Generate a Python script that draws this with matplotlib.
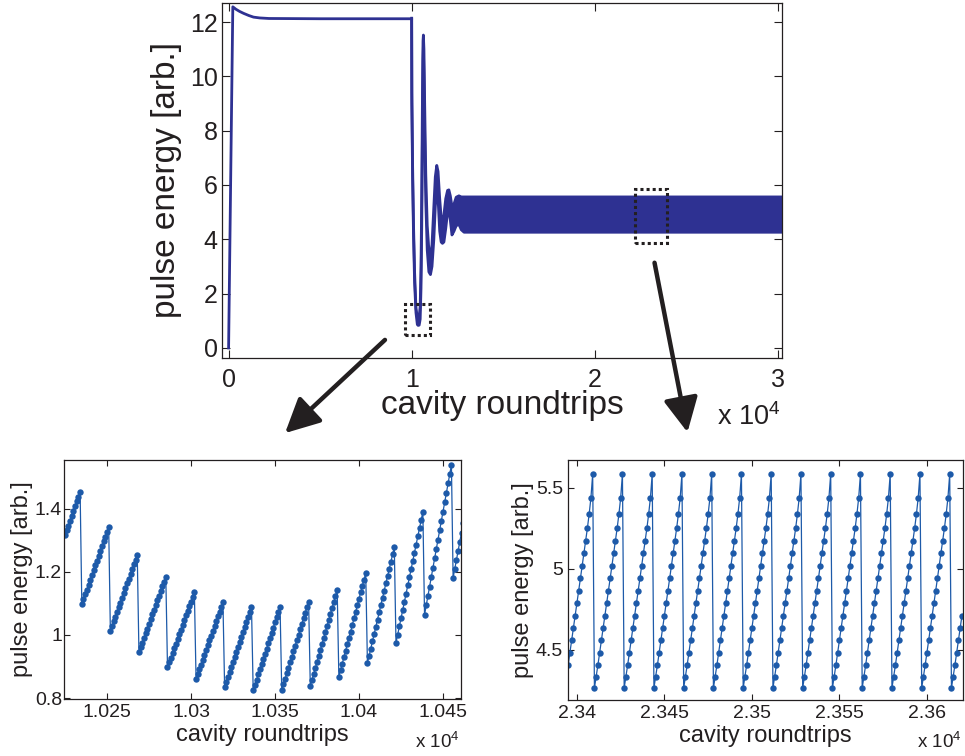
import numpy as np
import matplotlib
matplotlib.use("Agg")
import matplotlib.pyplot as plt
from matplotlib.patches import Rectangle, FancyArrowPatch

plt.rcParams['font.family'] = ['Liberation Sans', 'DejaVu Sans']
plt.rcParams['mathtext.fontset'] = 'custom'
plt.rcParams['mathtext.rm'] = 'Liberation Sans'
plt.rcParams['mathtext.it'] = 'Liberation Sans:italic'

INK = '#231f20'
NAVY = '#2e3192'
BLUE = '#1d5aa9'

# ---- full run: switch-on and first plateau (roundtrip, energy)
rise_x = [0, 230, 400, 600, 815, 1100, 1360, 1700, 2200, 5000, 9990]
rise_y = [0.0, 12.56, 12.47, 12.39, 12.32, 12.24, 12.18, 12.15, 12.13, 12.12, 12.12]

# ---- full run after the perturbation: lower / upper envelope of the sawtooth
env_x = [9990, 10000, 10040, 10090, 10150, 10225, 10300, 10345, 10400, 10455,
         10500, 10540, 10580, 10610, 10630, 10660, 10700, 10760, 10840, 10930,
         11016, 11100, 11200, 11280, 11360, 11430, 11520, 11600, 11670, 11750,
         11850, 11950, 12020, 12100, 12190, 12300, 12420, 12570, 12700, 12850,
         30300]
env_lo = [12.10, 9.0, 6.3, 4.2, 2.4, 1.30, 0.86, 0.83, 0.84, 1.06,
          2.2, 4.5, 8.0, 10.6, 11.1, 10.0, 7.8, 5.4, 3.6, 2.8,
          2.7, 3.0, 4.0, 5.2, 5.9, 5.5, 4.3, 3.9, 3.85, 3.9,
          4.4, 5.0, 5.1, 4.7, 4.16, 4.3, 4.5, 4.55, 4.35, 4.26,
          4.26]
env_hi = [12.14, 9.4, 6.8, 4.6, 2.8, 1.46, 1.14, 1.09, 1.15, 1.54,
          3.0, 5.6, 9.4, 11.3, 11.52, 11.0, 9.0, 6.4, 4.5, 3.6,
          3.4, 3.8, 5.2, 6.3, 6.72, 6.5, 5.5, 4.8, 4.6, 4.9,
          5.5, 5.8, 5.82, 5.6, 5.2, 5.3, 5.55, 5.6, 5.56, 5.56,
          5.56]

# ---- close-up near the first minimum, one value per roundtrip from 10225
pulse_left = (
    [1.317, 1.332, 1.347, 1.363, 1.378, 1.393, 1.408, 1.424, 1.439, 1.454]
    + [1.098, 1.113, 1.129, 1.144, 1.159, 1.175, 1.190, 1.205, 1.221, 1.236, 1.251, 1.266, 1.282, 1.297, 1.312, 1.328, 1.343]
    + [1.013, 1.028, 1.043, 1.058, 1.073, 1.088, 1.103, 1.118, 1.133, 1.149, 1.164, 1.179, 1.194, 1.209, 1.224, 1.239, 1.254]
    + [0.946, 0.961, 0.976, 0.991, 1.006, 1.020, 1.035, 1.050, 1.065, 1.080, 1.095, 1.110, 1.124, 1.139, 1.154, 1.169, 1.184]
    + [0.898, 0.913, 0.928, 0.943, 0.958, 0.972, 0.987, 1.002, 1.017, 1.032, 1.047, 1.062, 1.076, 1.091, 1.106, 1.121, 1.136]
    + [0.860, 0.875, 0.891, 0.906, 0.921, 0.937, 0.952, 0.967, 0.983, 0.998, 1.013, 1.028, 1.044, 1.059, 1.074, 1.090, 1.105]
    + [0.835, 0.851, 0.867, 0.883, 0.899, 0.914, 0.930, 0.946, 0.962, 0.978, 0.994, 1.010, 1.026, 1.041, 1.057, 1.073, 1.089]
    + [0.825, 0.842, 0.858, 0.875, 0.891, 0.908, 0.924, 0.941, 0.957, 0.974, 0.990, 1.007, 1.023, 1.040, 1.056, 1.073, 1.089]
    + [0.825, 0.843, 0.860, 0.878, 0.895, 0.913, 0.930, 0.948, 0.965, 0.983, 1.000, 1.018, 1.035, 1.053, 1.070, 1.088, 1.105]
    + [0.838, 0.857, 0.876, 0.895, 0.914, 0.933, 0.952, 0.971, 0.991, 1.010, 1.029, 1.048, 1.067, 1.086, 1.105, 1.124, 1.143]
    + [0.867, 0.888, 0.908, 0.929, 0.950, 0.970, 0.991, 1.011, 1.032, 1.053, 1.073, 1.094, 1.115, 1.135, 1.156, 1.176, 1.197]
    + [0.911, 0.934, 0.957, 0.980, 1.003, 1.026, 1.049, 1.072, 1.095, 1.118, 1.141, 1.164, 1.187, 1.210, 1.233, 1.256, 1.279]
    + [0.975, 1.001, 1.027, 1.053, 1.079, 1.105, 1.131, 1.157, 1.183, 1.209, 1.235, 1.261, 1.287, 1.313, 1.339, 1.365, 1.391]
    + [1.064, 1.094, 1.123, 1.153, 1.183, 1.213, 1.243, 1.272, 1.302, 1.332, 1.362, 1.391, 1.421, 1.451, 1.481, 1.510, 1.540]
    + [1.181, 1.210, 1.238, 1.267, 1.296, 1.325, 1.354]
)
left_start = 10225

# ---- close-up in the steady state: one sawtooth cycle (17 roundtrips)
cycle_right = [4.264, 4.335, 4.407, 4.483, 4.560, 4.634, 4.712, 4.788, 4.866,
               4.942, 5.020, 5.097, 5.175, 5.253, 5.340, 5.440, 5.586]
pulse_right = cycle_right[2:] + cycle_right * 12 + cycle_right[:7]
right_start = 23395

# ticks
top_xticks = [0, 10000, 20000, 30000]
top_xlabels = ['0', '1', '2', '3']
top_yticks = [0, 2, 4, 6, 8, 10, 12]
left_xticks = [10250, 10300, 10350, 10400, 10450]
left_xlabels = ['1.025', '1.03', '1.035', '1.04', '1.045']
left_yticks = [0.8, 1.0, 1.2, 1.4]
left_ylabels = ['0.8', '1', '1.2', '1.4']
right_xticks = [23400, 23450, 23500, 23550, 23600]
right_xlabels = ['2.34', '2.345', '2.35', '2.355', '2.36']
right_yticks = [4.5, 5.0, 5.5]
right_ylabels = ['4.5', '5', '5.5']

W, H = 965, 756
fig = plt.figure(figsize=(W / 100, H / 100), dpi=100)


def px_box(l, t, r, b):
    return [l / W, 1 - b / H, (r - l) / W, (b - t) / H]


def style(ax, tick_size, tick_len, pad_x, pad_y):
    for s in ax.spines.values():
        s.set_color(INK)
        s.set_linewidth(0.9)
    ax.tick_params(direction='in', top=True, right=True, length=tick_len,
                   width=0.8, color=INK, labelcolor=INK, labelsize=tick_size)
    ax.tick_params(axis='x', pad=pad_x)
    ax.tick_params(axis='y', pad=pad_y)


# main panel
ax = fig.add_axes(px_box(222, 3, 782, 358))
ax.plot(rise_x, rise_y, color=NAVY, lw=2)
ax.fill_between(env_x, env_lo, env_hi, color=NAVY, lw=0)
ax.plot(env_x, env_lo, color=NAVY, lw=2)
ax.plot(env_x, env_hi, color=NAVY, lw=2)
ax.set_xlim(-360, 30200)
ax.set_ylim(-0.37, 12.7)
ax.set_xticks(top_xticks, top_xlabels)
ax.set_yticks(top_yticks)
style(ax, 18, 6, 7, 3)
ax.set_xlabel('cavity roundtrips', fontsize=24, color=INK, labelpad=-1)
ax.set_ylabel('pulse energy [arb.]', fontsize=24, color=INK, labelpad=6)
ax.text(0.997, -0.19, r'x 10$^{4}$', transform=ax.transAxes, ha='right',
        va='baseline', fontsize=19.5, color=INK)

# dotted frames marking the close-ups
dots = dict(fill=False, ls=(0, (1, 1)), lw=2.2, ec=INK, zorder=5)
ax.add_patch(Rectangle((9620, 0.48), 1360, 1.14, **dots))
ax.add_patch(Rectangle((22170, 3.86), 1740, 1.99, **dots))

# close-up at the first minimum
axl = fig.add_axes(px_box(64, 460, 461, 699))
xl = left_start + np.arange(len(pulse_left))
axl.plot(xl, pulse_left, '-o', color=BLUE, lw=0.9, ms=4.6, mew=0)
axl.set_xlim(10224.4, 10460.7)
axl.set_ylim(0.797, 1.555)
axl.set_xticks(left_xticks, left_xlabels)
axl.set_yticks(left_yticks, left_ylabels)
style(axl, 14, 4, 3.5, 1.5)
axl.set_xlabel('cavity roundtrips', fontsize=17, color=INK, labelpad=2.5)
axl.set_ylabel('pulse energy [arb.]', fontsize=17, color=INK, labelpad=1.5)
axl.text(0.997, -0.205, r'x 10$^{4}$', transform=axl.transAxes, ha='right',
         va='baseline', fontsize=13.5, color=INK)

# close-up in the steady state
axr = fig.add_axes(px_box(568, 460, 963, 700))
xr = right_start + np.arange(len(pulse_right))
axr.plot(xr, pulse_right, '-o', color=BLUE, lw=0.9, ms=4.6, mew=0)
axr.set_xlim(23394.9, 23620.6)
axr.set_ylim(4.19, 5.673)
axr.set_xticks(right_xticks, right_xlabels)
axr.set_yticks(right_yticks, right_ylabels)
style(axr, 14, 4, 3.5, 3.5)
axr.set_xlabel('cavity roundtrips', fontsize=17, color=INK, labelpad=2.5)
axr.set_ylabel('pulse energy [arb.]', fontsize=17, color=INK, labelpad=1)
axr.text(0.997, -0.2, r'x 10$^{4}$', transform=axr.transAxes, ha='right',
         va='baseline', fontsize=13.5, color=INK)

# arrows from the frames down to the close-ups
for (x0, y0), (x1, y1) in [((387, 338), (283, 435)), ((654, 260), (688, 435))]:
    arr = FancyArrowPatch((x0 / W, 1 - y0 / H), (x1 / W, 1 - y1 / H),
                          transform=fig.transFigure,
                          arrowstyle='-|>,head_length=21,head_width=10.5',
                          mutation_scale=1, lw=3.2, color=INK, zorder=10)
    fig.add_artist(arr)

fig.savefig('out.png', dpi=100)
